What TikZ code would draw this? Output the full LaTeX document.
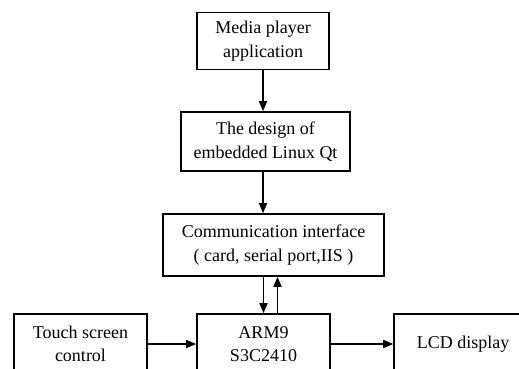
\documentclass[tikz,border=0pt]{standalone}
\usepackage{fontspec}
\setmainfont{Liberation Serif}
\usetikzlibrary{arrows.meta,calc}
\begin{document}
\begin{tikzpicture}[x=1pt,y=-1pt,
  blk/.style={draw,line width=1.6pt,inner sep=0pt,align=center,
    font=\fontsize{18}{23.5}\selectfont},
  arr/.style={line width=1.6pt,-{Triangle[length=10pt,width=8pt]}}]
\useasboundingbox (0,0) rectangle (519,369);
\clip (0,0) rectangle (519,369);
\fill[white] (0,0) rectangle (519,369);
\node[blk,minimum width=132pt,minimum height=57pt] (media) at (263,41) {Media player\\application};
\node[blk,minimum width=169pt,minimum height=59pt] (design) at (265.5,141.5) {The design of\\embedded Linux Qt};
\node[blk,minimum width=221pt,minimum height=62pt] (comm) at (273.5,245) {Communication interface\\( card, serial port,IIS )};
\node[blk,minimum width=133pt,minimum height=60pt] (arm) at (263.5,344) {ARM9\\S3C2410};
\node[blk,minimum width=133pt,minimum height=60pt] (touch) at (80.5,344) {Touch screen\\control};
\node[blk,minimum width=138pt,minimum height=60pt] (lcd) at (463,344) {LCD display};
\draw[arr] (media.south) -- (media.south |- design.north);
\draw[arr] (media.south |- design.south) -- (media.south |- comm.north);
\draw[arr] (arm.north |- comm.south) -- (arm.north);
\draw[arr] ([xshift=14pt]arm.north) -- ([xshift=14pt]arm.north |- comm.south);
\draw[arr] (touch.east) -- (arm.west);
\draw[arr] (arm.east) -- (lcd.west);
\end{tikzpicture}
\end{document}
